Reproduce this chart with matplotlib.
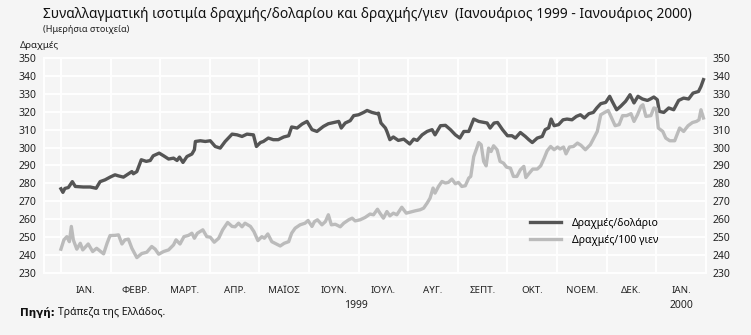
import matplotlib
matplotlib.use("Agg")
import matplotlib.pyplot as plt

plt.rcParams['font.family'] = ['Noto Sans', 'DejaVu Sans']

# months since 1 Jan 1999
usd_m = [0.00, 0.04, 0.08, 0.15, 0.23, 0.29, 0.45, 0.59, 0.71, 0.79, 0.89, 0.99,
         1.09, 1.16, 1.26, 1.33, 1.43, 1.46, 1.53, 1.62, 1.72, 1.80, 1.86, 1.98,
         2.07, 2.17, 2.27, 2.34, 2.39, 2.46, 2.54, 2.64, 2.69, 2.71, 2.81, 2.91,
         3.01, 3.11, 3.21, 3.31, 3.45, 3.55, 3.65, 3.75, 3.88, 3.94, 4.02, 4.08,
         4.18, 4.28, 4.38, 4.49, 4.59, 4.65, 4.76, 4.86, 4.96, 5.06, 5.16, 5.29,
         5.39, 5.53, 5.60, 5.65, 5.73, 5.83, 5.90, 6.00, 6.10, 6.17, 6.27, 6.37,
         6.40, 6.45, 6.54, 6.57, 6.63, 6.70, 6.80, 6.91, 7.03, 7.11, 7.18, 7.28,
         7.38, 7.48, 7.54, 7.65, 7.75, 7.85, 7.95, 8.04, 8.12, 8.22, 8.32, 8.42,
         8.53, 8.59, 8.65, 8.73, 8.80, 8.90, 9.00, 9.09, 9.16, 9.26, 9.36, 9.43,
         9.50, 9.60, 9.70, 9.76, 9.83, 9.88, 9.94, 10.03, 10.12, 10.20, 10.30,
         10.39, 10.47, 10.55, 10.64, 10.73, 10.80, 10.88, 10.98, 11.06, 11.11,
         11.20, 11.28, 11.38, 11.47, 11.55, 11.63, 11.72, 11.82, 11.88, 11.95,
         12.02, 12.06, 12.15, 12.25, 12.35, 12.45, 12.55, 12.65, 12.74, 12.85,
         12.90, 12.95]
usd_v = [277, 275, 277.2, 277.7, 281, 278.3, 278, 278, 277.3, 281, 282, 283.5,
         284.8, 284.2, 283.5, 284.8, 286.6, 285.4, 286.6, 293.2, 292.3, 292.8, 295.4, 296.9,
         295.4, 293.6, 294.1, 292.8, 294.7, 291.7, 295, 296.4, 298.8, 303.4, 303.8, 303.4,
         303.8, 300.6, 299.7, 303.4, 307.5, 307.1, 306.2, 307.5, 307.1, 300.6, 302.8, 303.4,
         305.3, 304.4, 304.4, 305.9, 306.6, 311.5, 310.9, 313.1, 314.6, 310, 309, 311.8,
         313.3, 314.2, 314.6, 310.9, 313.7, 315, 317.8, 318.3, 319.6, 320.7, 319.6, 318.9,
         319.2, 313.7, 310.9, 309, 304.4, 305.9, 304, 304.7, 302, 304.7, 304, 307.1,
         309, 310, 307.1, 312.2, 312.4, 310, 307.1, 305.3, 309, 309, 315.9, 314.6,
         314, 313.7, 310.9, 313.7, 314, 310, 306.6, 306.6, 305.3, 308.4, 306.2, 304.4,
         302.8, 305.3, 306.2, 310, 311, 315.9, 312.2, 312.8, 315.5, 315.9, 315.5,
         317.4, 318.3, 316.5, 318.9, 319.6, 322.1, 324.5, 325.2, 328.6, 325.8,
         321.1, 323, 325.8, 329.5, 324.9, 328.6, 327.1, 326.3, 327.1, 328.2,
         326.7, 320.2, 319.6, 322.1, 321.1, 326.3, 327.6, 327.1, 330.4, 331.3,
         334.1, 337.9]

jpy_m = [0.00, 0.06, 0.12, 0.17, 0.21, 0.25, 0.32, 0.39, 0.44, 0.55, 0.64, 0.72,
         0.86, 0.93, 0.99, 1.09, 1.16, 1.23, 1.29, 1.36, 1.43, 1.53, 1.63, 1.73,
         1.83, 1.90, 1.97, 2.07, 2.17, 2.27, 2.32, 2.40, 2.48, 2.57, 2.64, 2.69,
         2.75, 2.86, 2.94, 3.01, 3.09, 3.18, 3.26, 3.36, 3.45, 3.51, 3.58, 3.65,
         3.71, 3.82, 3.89, 3.97, 4.05, 4.10, 4.17, 4.25, 4.34, 4.42, 4.50, 4.59,
         4.65, 4.72, 4.82, 4.92, 4.98, 5.06, 5.11, 5.17, 5.26, 5.33, 5.39, 5.45,
         5.53, 5.63, 5.70, 5.80, 5.87, 5.93, 6.03, 6.13, 6.23, 6.30, 6.38, 6.43,
         6.50, 6.57, 6.63, 6.70, 6.77, 6.87, 6.96, 7.04, 7.14, 7.24, 7.31, 7.38,
         7.44, 7.50, 7.54, 7.61, 7.68, 7.75, 7.81, 7.88, 7.95, 8.01, 8.08, 8.15,
         8.22, 8.26, 8.32, 8.37, 8.42, 8.47, 8.52, 8.57, 8.62, 8.67, 8.72, 8.79,
         8.85, 8.92, 8.98, 9.06, 9.12, 9.19, 9.26, 9.33, 9.37, 9.43, 9.51, 9.60,
         9.67, 9.74, 9.80, 9.87, 9.94, 10.01, 10.06, 10.13, 10.18, 10.25, 10.33,
         10.41, 10.48, 10.57, 10.67, 10.74, 10.81, 10.88, 10.94, 11.03, 11.10,
         11.17, 11.25, 11.32, 11.40, 11.49, 11.55, 11.62, 11.69, 11.73, 11.79,
         11.89, 11.95, 12.00, 12.04, 12.13, 12.19, 12.27, 12.37, 12.47, 12.55,
         12.64, 12.73, 12.81, 12.86, 12.90, 12.95]
jpy_v = [243.3, 248.5, 250.3, 247.5, 256, 248.5, 243.3, 246.6, 242.9, 246.2, 242, 243.8,
         240.7, 246.6, 250.9, 251, 251.3, 246.2, 248.5, 248.9, 243.8, 238.6, 240.9, 241.6,
         244.8, 243.3, 240.5, 242, 242.9, 245.7, 248.5, 246.2, 250.3, 251, 252.2, 249.4,
         252.2, 254.1, 250.3, 250, 247.2, 249.4, 254.1, 258.2, 256, 255.8, 257.8, 255.8,
         257.8, 256, 253.1, 248.1, 250.3, 249.4, 251.8, 247.5, 246.2, 245.1, 246.6, 247.5,
         252.2, 255, 256.9, 257.8, 259.3, 256, 258.7, 259.7, 256.9, 258.7, 262.5, 256.9,
         257.2, 255.8, 257.8, 259.7, 260.6, 259.1, 259.7, 261, 262.9, 262.5, 265.6, 263.4,
         260.6, 264.3, 261.9, 263.4, 262.5, 266.7, 263.4, 264, 264.7, 265.3, 266.2, 269,
         271.8, 277.4, 274.6, 278.3, 281.1, 280.2, 280.6, 282.4, 279.8, 280.6, 278.3, 278.7,
         283, 283.9, 295, 298.8, 302.8, 301.6, 292.3, 289.8, 299.7, 297.8, 301, 298.8,
         292.3, 291.3, 289.1, 288.5, 283.9, 283.9, 287.6, 289.5, 283.3, 285.4, 288, 288,
         289.8, 294.1, 298.2, 300.6, 298.8, 300.3, 299.2, 300.3, 296.5, 300.3, 300.6,
         302.5, 301.3, 298.8, 301.6, 305.3, 309, 318.3, 319.3, 320.7, 316.5,
         312.2, 312.8, 317.8, 317.8, 318.9, 314.6, 318.3, 323, 323.9, 317.4,
         317.8, 322.1, 321.7, 310.9, 309, 305.3, 303.8, 303.8, 310.9, 309,
         312.2, 314, 314.6, 315.5, 321.1, 316.5]

month_labels = ['ΙΑΝ.', 'ΦΕΒΡ.', 'ΜΑΡΤ.', 'ΑΠΡ.', 'ΜΑΪΟΣ', 'ΙΟΥΝ.', 'ΙΟΥΛ.',
                'ΑΥΓ.', 'ΣΕΠΤ.', 'ΟΚΤ.', 'ΝΟΕΜ.', 'ΔΕΚ.', 'ΙΑΝ.']
y_ticks = list(range(230, 351, 10))

bg = '#f5f5f5'
fig = plt.figure(figsize=(7.51, 3.35), dpi=100, facecolor=bg)
ax = fig.add_axes([0.058, 0.185, 0.882, 0.642], facecolor=bg)

ax.plot(usd_m, usd_v, color='#555555', lw=2.4, label='Δραχμές/δολάριο',
        solid_joinstyle='round', zorder=3)
ax.plot(jpy_m, jpy_v, color='#bbbbbb', lw=2.4, label='Δραχμές/100 γιεν',
        solid_joinstyle='round', zorder=3)

ax.set_xlim(-0.35, 13)
ax.set_ylim(230, 350)
ax.set_yticks(y_ticks)
ax.set_xticks(range(13))
ax.set_xticklabels([])
ax.set_xticks([i + 0.5 for i in range(13)], minor=True)
ax.set_xticklabels(month_labels, minor=True)
ax.tick_params(axis='x', which='both', length=0)
ax.tick_params(axis='x', which='minor', labelsize=7, colors='#222222', pad=9)
ax.tick_params(axis='y', length=0, labelsize=7.5, colors='#222222',
               labelright=True, pad=5)
ax.grid(True, which='major', color='white', lw=1.3, zorder=1)
for s in ax.spines.values():
    s.set_color('white')
    s.set_linewidth(1.3)

# year labels under the month row
ax.text(5.95, -0.15, '1999', transform=ax.get_xaxis_transform(), ha='center',
        va='center', fontsize=7.5, color='#222222')
ax.text(12.5, -0.15, '2000', transform=ax.get_xaxis_transform(), ha='center',
        va='center', fontsize=7.5, color='#222222')

ax.legend(loc='upper left', bbox_to_anchor=(0.72, 0.3), frameon=False,
          fontsize=7.5, handlelength=3.0, handletextpad=1.0, labelspacing=0.55)

fig.text(0.057, 0.958, 'Συναλλαγματική ισοτιμία δραχμής/δολαρίου και δραχμής/γιεν  '
         '(Ιανουάριος 1999 - Ιανουάριος 2000)', fontsize=9.9, va='center',
         color='#111111')
fig.text(0.057, 0.913, '(Ημερήσια στοιχεία)', fontsize=6.5, va='center',
         color='#222222')
fig.text(0.027, 0.865, 'Δραχμές', fontsize=7, va='center', color='#222222')
src = fig.text(0.027, 0.066, 'Πηγή:', fontsize=7.5, va='center', color='#111111',
               fontweight='bold', family=['DejaVu Sans'])
fig.canvas.draw()
x1 = src.get_window_extent().x1 / fig.bbox.width
fig.text(x1 + 0.004, 0.066, 'Τράπεζα της Ελλάδος.', fontsize=7.5, va='center',
         color='#111111')

fig.savefig('out.png', dpi=100, facecolor=bg)
